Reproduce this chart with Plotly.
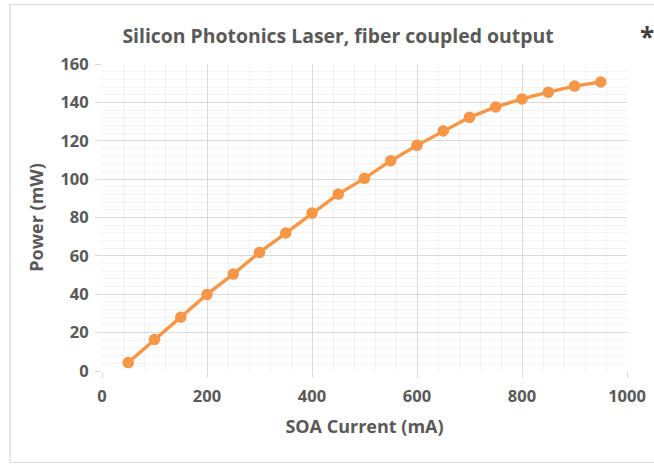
import plotly.graph_objects as go

# SOA drive current (mA) and fiber-coupled output power (mW)
soa_current_ma = [50, 100, 150, 200, 250, 300, 350, 400, 450, 500,
                  550, 600, 650, 700, 750, 800, 850, 900, 950]
power_mw = [4.4, 16.4, 28.0, 39.9, 50.5, 61.8, 71.9, 82.3, 92.2, 100.4,
            109.6, 117.6, 125.1, 132.2, 137.6, 141.8, 145.3, 148.5, 150.6]

x_ticks = [0, 200, 400, 600, 800, 1000]
y_ticks = [0, 20, 40, 60, 80, 100, 120, 140, 160]

W, H = 654, 465
L, R, T, B = 102, 27, 64, 94
pw, ph = W - L - R, H - T - B

TEXT = "#595959"
ORANGE = "#F79646"
MAJOR = "#d9d9d9"
MINOR = "#f2f2f2"
FONT = "Open Sans"

fig = go.Figure()
fig.add_trace(go.Scatter(
    x=soa_current_ma, y=power_mw, mode="lines+markers",
    line=dict(color=ORANGE, width=3.4),
    marker=dict(color=ORANGE, size=11.5),
    showlegend=False, cliponaxis=False,
))

axis_common = dict(
    showgrid=True, gridcolor=MAJOR, gridwidth=1,
    showline=False, zeroline=False, automargin=False,
    ticks="outside", ticklen=6, tickcolor=MAJOR, tickwidth=1,
    tickfont=dict(family=FONT, size=16.5, color=TEXT, weight="bold"),
)

fig.update_xaxes(
    range=[0, 1000], tickvals=x_ticks, **axis_common,
    minor=dict(dtick=40, showgrid=True, gridcolor=MINOR, gridwidth=1, ticks=""),
    ticklabelstandoff=4,
    title=dict(text="SOA Current (mA)", standoff=14,
               font=dict(family=FONT, size=18, color=TEXT, weight="bold")),
)
fig.update_yaxes(
    range=[0, 160], tickvals=y_ticks, **axis_common,
    minor=dict(dtick=4, showgrid=True, gridcolor=MINOR, gridwidth=1, ticks=""),
    ticklabelstandoff=3,
    title=dict(text="Power (mW)", standoff=12,
               font=dict(family=FONT, size=18, color=TEXT, weight="bold")),
)

# chart frame
def px_x(p):
    return (p - L) / pw

def px_y(p):
    return (H - B - p) / ph

fig.add_shape(type="rect", xref="paper", yref="paper",
              x0=px_x(10), x1=px_x(700), y0=px_y(462.5), y1=px_y(4.5),
              line=dict(color="#d9d9d9", width=1.2), layer="below")

fig.add_annotation(text="*", xref="paper", yref="paper",
                   x=px_x(647), y=px_y(37), xanchor="center", yanchor="middle",
                   showarrow=False,
                   font=dict(family=FONT, size=26, color="#404040", weight="bold"))

fig.update_layout(
    width=W, height=H,
    margin=dict(l=L, r=R, t=T, b=B),
    paper_bgcolor="white", plot_bgcolor="white",
    title=dict(text="Silicon Photonics Laser, fiber coupled output",
               x=(338) / W, xanchor="center", y=1 - 36 / H, yanchor="middle",
               font=dict(family=FONT, size=19.4, color=TEXT, weight="bold")),
)

fig.write_html("out.html")
